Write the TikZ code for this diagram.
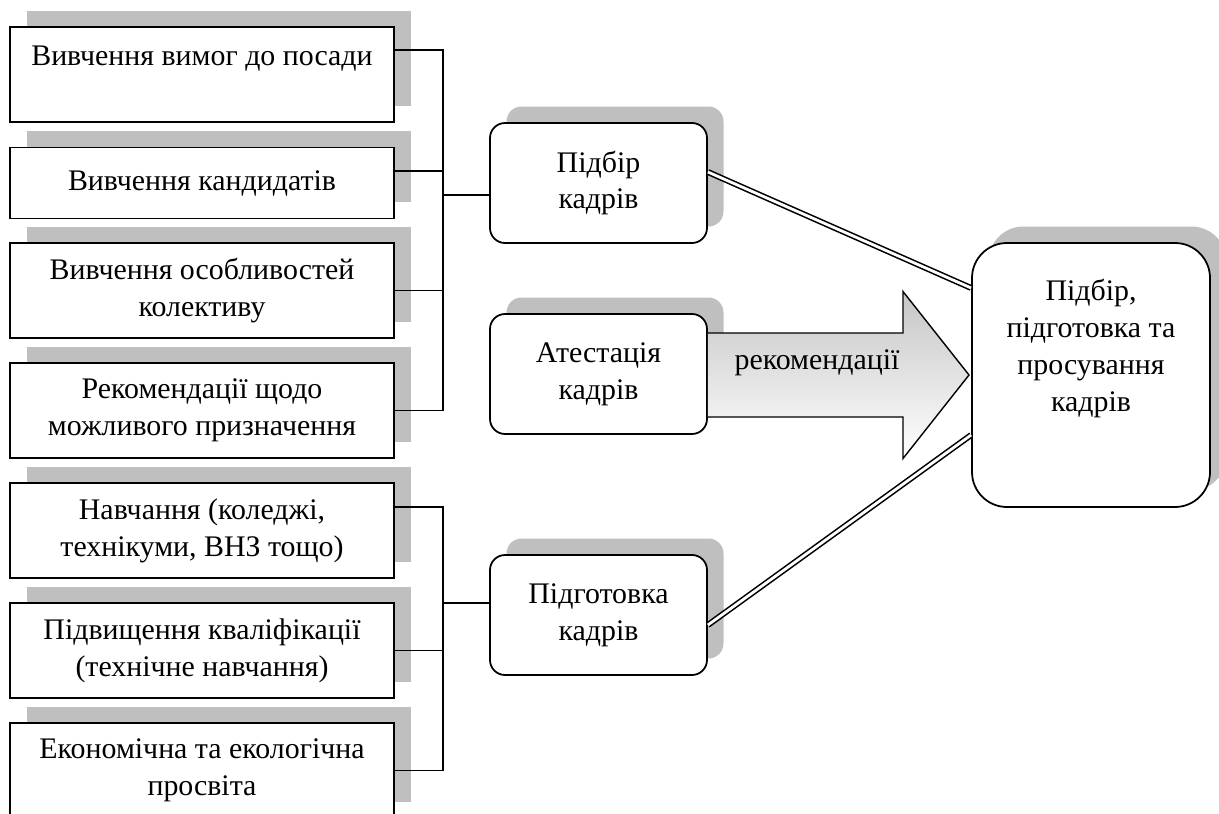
\documentclass[tikz,border=0pt]{standalone}
\usepackage{fontspec}
\setmainfont{Liberation Serif}
\usetikzlibrary{shadows}

\tikzset{
	shadowed/.style={general shadow={draw=none,fill=gray!50,shadow xshift=0.33cm,shadow yshift=0.33cm}},
	leftbox/.style={draw,line width=1pt,fill=white,shadowed,minimum width=7.68cm,align=center},
	midbox/.style={draw,line width=1pt,fill=white,shadowed,rounded corners=0.3cm,minimum width=4.34cm,minimum height=2.4cm,align=center},
	bigbox/.style={draw,line width=1pt,fill=white,shadowed,rounded corners=0.7cm,minimum width=4.76cm,minimum height=5.28cm,align=center},
	conn/.style={line width=1pt},
	dbl/.style={line width=0.9pt,double,double distance=1.6pt}
}

\begin{document}
\begin{tikzpicture}[font=\fontsize{17}{21}\selectfont]
		\useasboundingbox (0,0) rectangle (24.38,-16.28);
		% left column
		\node[leftbox,minimum height=1.9cm] (b1) at (4.04,-1.49){Вивчення вимог до посади\\\mbox{}};
		\node[leftbox,minimum height=1.42cm] (b2) at (4.04,-3.66){Вивчення кандидатів};
		\node[leftbox,minimum height=1.9cm] (b3) at (4.04,-5.81){Вивчення особливостей\\колективу};
		\node[leftbox,minimum height=1.9cm] (b4) at (4.04,-8.21){Рекомендації щодо\\можливого призначення};
		\node[leftbox,minimum height=1.9cm] (b5) at (4.04,-10.61){Навчання (коледжі,\\технікуми, ВНЗ тощо)};
		\node[leftbox,minimum height=1.9cm] (b6) at (4.04,-13.01){Підвищення кваліфікації\\(технічне навчання)};
		\node[leftbox,minimum height=1.9cm] (b7) at (4.04,-15.41){Економічна та екологічна\\просвіта};
		% middle column
		\node[midbox] (pb) at (11.97,-3.66){Підбір\\кадрів};
		\node[midbox] (att) at (11.97,-7.48){Атестація\\кадрів};
		\node[midbox] (prep) at (11.97,-12.3){Підготовка\\кадрів};
		% right
		\node[bigbox] (big) at (21.82,-7.5){Підбір,\\підготовка та\\просування\\кадрів\\[0.45cm]\mbox{}};

		% buses
		\coordinate (ja) at (8.86,-3.9);
		\coordinate (jb) at (8.86,-12.06);
		\draw[conn] (b1.east |- 0,-1) -| (ja);
		\draw[conn] (b2.east |- 0,-3.42) -| (ja);
		\draw[conn] (b3.east) -| (ja);
		\draw[conn] (b4.east) -| (ja);
		\draw[conn] (ja) -- (ja -| pb.west);
		\draw[conn] (b5.east |- 0,-10.14) -| (jb);
		\draw[conn] (b6.east) -| (jb);
		\draw[conn] (b7.east) -| (jb);
		\draw[conn] (jb) -- (jb -| prep.west);

		% big arrow
		\draw[line width=0.8pt,top color=gray!45,bottom color=white]
			(att.east |- 0,-6.66)--(18.06,-6.66)--(18.06,-5.83)--(19.38,-7.5)--(18.06,-9.17)--(18.06,-8.34)--(att.east |- 0,-8.34);
		\node (rec) at (16.34,-7.26){рекомендації};

		% double lines
		\draw[dbl] ([yshift=0.22cm]pb.east)--([yshift=1.74cm]big.west);
		\draw[dbl] ([yshift=-0.2cm]prep.east)--([yshift=-1.2cm]big.west);
	\end{tikzpicture}
\end{document}
